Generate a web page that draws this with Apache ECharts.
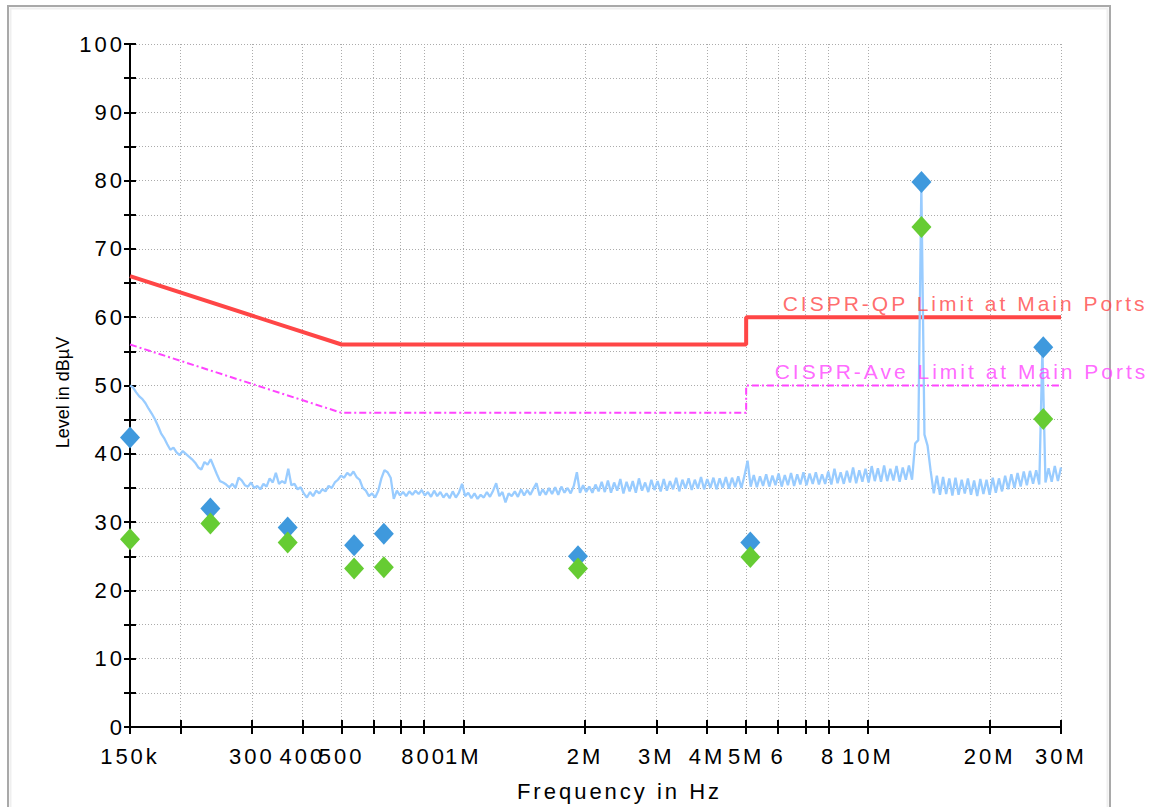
<!DOCTYPE html>
<html>
<head>
<meta charset="utf-8">
<script src="https://cdn.jsdelivr.net/npm/echarts@6/dist/echarts.min.js"></script>
<style>
html,body{margin:0;padding:0;background:#fff;}
#chart{width:1158px;height:807px;}
#chart text{letter-spacing:3px;}
#chart text[style*="18px"]{letter-spacing:0;}
</style>
</head>
<body>
<div id="chart"></div>
<script>
// Sweep definition of the measured trace (log-spaced receiver sweep points)
const sweepStartHz = 150e3;
const sweepStopHz = 30e6;
const sweepPoints = 301;

const traceLevels = [
  50.0,49.7,49.0,48.4,48.0,47.4,46.6,45.9,45.1,44.1,
  43.0,42.3,41.4,40.6,40.9,40.2,39.8,40.4,40.0,39.6,
  39.2,38.7,38.0,37.7,38.8,38.4,39.2,38.1,37.0,36.0,
  35.8,35.5,35.1,35.6,35.0,36.5,36.1,35.4,35.2,35.8,
  35.0,35.3,34.8,35.6,35.2,36.4,35.8,37.2,35.6,36.0,
  35.7,37.8,35.4,35.6,34.8,35.1,34.2,33.6,34.4,33.8,
  34.6,34.2,34.8,34.5,35.3,35.0,35.8,36.2,36.8,36.5,
  37.2,36.8,37.4,36.6,36.2,35.0,34.6,33.8,34.2,33.6,
  34.6,36.4,37.6,37.3,36.5,33.4,34.6,33.9,34.4,33.8,
  34.5,34.0,34.6,34.1,34.7,33.9,34.4,33.7,34.6,33.8,
  34.4,33.6,34.2,33.5,34.5,33.6,34.3,35.6,33.8,34.3,
  33.5,34.2,33.4,34.0,33.6,34.4,33.7,34.6,35.7,33.8,
  34.4,32.9,34.2,33.8,34.5,33.7,34.8,33.9,34.7,34.0,
  34.9,35.7,33.9,34.8,34.0,35.0,34.1,35.1,34.0,35.2,
  34.3,35.0,34.2,35.3,37.3,34.3,35.4,34.4,35.2,34.3,
  35.5,
  34.5,35.9,34.4,36.1,34.3,35.8,34.6,36.3,34.2,35.9,
  34.5,36.0,34.3,36.4,34.6,35.8,34.4,36.2,34.7,36.0,
  34.5,36.3,34.6,36.0,34.8,36.5,34.5,36.2,34.9,36.4,
  34.7,36.2,34.9,36.6,34.8,36.3,35.0,36.5,34.8,36.4,
  35.0,36.6,34.9,36.5,35.1,36.7,35.0,36.8,39.0,35.2,
  36.9,35.1,36.7,35.3,37.0,35.2,36.8,35.4,37.1,35.2,
  36.9,35.4,37.2,35.3,37.0,35.5,37.3,35.4,37.1,35.6,
  37.3,35.5,37.0,35.6,37.4,35.5,37.8,35.7,37.3,35.6,
  37.5,35.8,38.0,35.7,37.6,35.9,37.8,35.8,38.2,36.0,
  37.9,35.9,38.3,36.0,37.8,36.1,38.2,35.9,38.0,36.2,
  38.3,36.2,41.5,42.0,79.5,42.8,41.2,37.5,34.2,36.8,
  34.0,36.6,34.1,36.4,33.9,36.5,34.0,36.2,34.2,36.4,
  34.0,36.1,33.8,36.3,34.1,36.2,34.0,36.5,34.3,36.4,
  34.5,36.8,34.8,37.0,35.0,37.2,35.2,37.4,35.4,37.5,
  35.6,37.6,35.5,55.3,35.8,37.9,35.9,38.2,36.0,38.0
];

// Final measurement results (diamonds)
const markerFreqsHz = [150e3, 237e3, 368e3, 537e3, 636e3, 1.92e6, 5.12e6, 13.56e6, 27.12e6];
const qpLevels      = [42.4, 32.0, 29.2, 26.6, 28.3, 25.0, 27.0, 79.8, 55.6];
const avLevels      = [27.5, 29.8, 27.0, 23.2, 23.4, 23.2, 24.9, 73.2, 45.1];

// Limit lines
const limitFreqsHz  = [150e3, 500e3, 5e6, 5e6, 30e6];
const qpLimitLevels = [66, 56, 56, 60, 60];
const avLimitLevels = [56, 46, 46, 50, 50];
const limitNames = ['CISPR-QP Limit at Main Ports', 'CISPR-Ave Limit at Main Ports'];

// Axis ticks and labels
const xTickValues  = [150e3,200e3,300e3,400e3,500e3,600e3,700e3,800e3,1e6,2e6,3e6,4e6,5e6,6e6,7e6,8e6,10e6,20e6,30e6];
const xLabelValues = [150e3,300e3,400e3,500e3,800e3,1e6,2e6,3e6,4e6,5e6,6e6,8e6,10e6,20e6,30e6];
const xLabelTexts  = ['150k','300','400','500','800','1M','2M','3M','4M','5M','6','8','10M','20M','30M'];

const FONT = 'Liberation Sans, Arial, sans-serif';

function xLabel(v) {
  for (let i = 0; i < xLabelValues.length; i++) {
    if (Math.abs(v - xLabelValues[i]) / xLabelValues[i] < 1e-6) return xLabelTexts[i];
  }
  return '';
}

const traceData = traceLevels.map((lv, i) => {
  const f = sweepStartHz * Math.pow(sweepStopHz / sweepStartHz, i / (sweepPoints - 1));
  return [f, lv];
});

const axisLineStyle = { color: '#000', width: 2 };
const gridLineStyle = { color: '#ababab', width: 1, type: [1, 2] };

const chart = echarts.init(document.getElementById('chart'), null, { renderer: 'svg' });

const xBase = { type: 'log', logBase: 10, min: sweepStartHz, max: sweepStopHz, position: 'bottom' };
const yBase = { type: 'value', min: 0, max: 100, interval: 5, position: 'left' };

chart.setOption({
  animation: false,
  backgroundColor: '#fff',
  grid: { left: 130, right: 97, top: 44, bottom: 76, containLabel: false },
  graphic: [
    { type: 'rect', shape: { x: 8, y: 6, width: 1102, height: 840 }, style: { fill: 'none', stroke: '#a9a9a9', lineWidth: 2 }, silent: true },
    { type: 'rect', shape: { x: 10.5, y: 8.5, width: 1097, height: 840 }, style: { fill: 'none', stroke: '#efefef', lineWidth: 2 }, silent: true }
  ],
  xAxis: [
    Object.assign({}, xBase, {
      name: 'Frequency in Hz',
      nameLocation: 'middle',
      nameGap: 53,
      nameTextStyle: { fontSize: 22, color: '#000', fontFamily: FONT, padding: [0, 0, 0, 48] },
      axisLine: { show: true, onZero: false, lineStyle: axisLineStyle },
      axisTick: { show: true, inside: false, length: 7, customValues: xTickValues, lineStyle: axisLineStyle },
      axisLabel: { show: true, customValues: xLabelValues, formatter: xLabel, margin: 18, color: '#000', fontSize: 22, fontFamily: FONT, hideOverlap: false, showMinLabel: true, showMaxLabel: true },
      splitLine: { show: true, lineStyle: gridLineStyle },
      minorTick: { show: false },
      minorSplitLine: { show: false }
    }),
    Object.assign({}, xBase, {
      axisLine: { show: false },
      axisTick: { show: true, inside: true, length: 7, customValues: xTickValues, lineStyle: axisLineStyle },
      axisLabel: { show: false },
      splitLine: { show: false }
    })
  ],
  yAxis: [
    Object.assign({}, yBase, {
      name: 'Level in dBµV',
      nameLocation: 'middle',
      nameGap: 58,
      nameTextStyle: { fontSize: 18, color: '#000', fontFamily: FONT, padding: [0, 14, 0, 0] },
      axisLine: { show: true, onZero: false, lineStyle: axisLineStyle },
      axisTick: { show: true, inside: false, length: 6, lineStyle: axisLineStyle },
      axisLabel: { show: true, margin: 5, color: '#000', fontSize: 22, fontFamily: FONT, formatter: v => (v % 10 === 0 ? String(v) : '') },
      splitLine: { show: true, lineStyle: gridLineStyle }
    }),
    Object.assign({}, yBase, {
      axisLine: { show: false },
      axisTick: { show: true, inside: true, length: 6, lineStyle: axisLineStyle },
      axisLabel: { show: false },
      splitLine: { show: false }
    })
  ],
  series: [
    {
      name: limitNames[1], type: 'line', xAxisIndex: 0, yAxisIndex: 0, z: 2,
      data: limitFreqsHz.map((f, i) => [f, avLimitLevels[i]]),
      showSymbol: false, symbol: 'none',
      lineStyle: { color: '#ff44ff', width: 2, type: [7, 3, 2, 3] }
    },
    {
      name: limitNames[0], type: 'line', xAxisIndex: 0, yAxisIndex: 0, z: 2,
      data: limitFreqsHz.map((f, i) => [f, qpLimitLevels[i]]),
      showSymbol: false, symbol: 'none',
      lineStyle: { color: '#ff4646', width: 4 }
    },
    {
      name: 'Trace', type: 'line', xAxisIndex: 0, yAxisIndex: 0, z: 3,
      data: traceData, showSymbol: false, symbol: 'none', sampling: null,
      lineStyle: { color: '#99ccff', width: 2.3 }
    },
    {
      name: 'QP', type: 'scatter', z: 5, clip: false,
      data: markerFreqsHz.map((f, i) => [f, qpLevels[i]]),
      symbol: 'diamond', symbolSize: [20, 22],
      itemStyle: { color: '#3f99dd', opacity: 1 }
    },
    {
      name: 'AV', type: 'scatter', z: 6, clip: false,
      data: markerFreqsHz.map((f, i) => [f, avLevels[i]]),
      symbol: 'diamond', symbolSize: [20, 22],
      itemStyle: { color: '#66cc33', opacity: 1 }
    },
    {
      name: 'QP label', type: 'scatter', z: 4, clip: false, silent: true,
      data: [[limitFreqsHz[3], qpLimitLevels[3]]],
      symbol: 'circle', symbolSize: 1, itemStyle: { color: 'rgba(0,0,0,0)' },
      label: { show: true, formatter: limitNames[0], position: [37, -13], align: 'left', verticalAlign: 'middle', color: '#ff4646', fontSize: 21, fontFamily: FONT }
    },
    {
      name: 'AV label', type: 'scatter', z: 4, clip: false, silent: true,
      data: [[limitFreqsHz[3], avLimitLevels[3]]],
      symbol: 'circle', symbolSize: 1, itemStyle: { color: 'rgba(0,0,0,0)' },
      label: { show: true, formatter: limitNames[1], position: [29, -14], align: 'left', verticalAlign: 'middle', color: '#ff44ff', fontSize: 21, fontFamily: FONT }
    }
  ]
});
</script>
</body>
</html>
